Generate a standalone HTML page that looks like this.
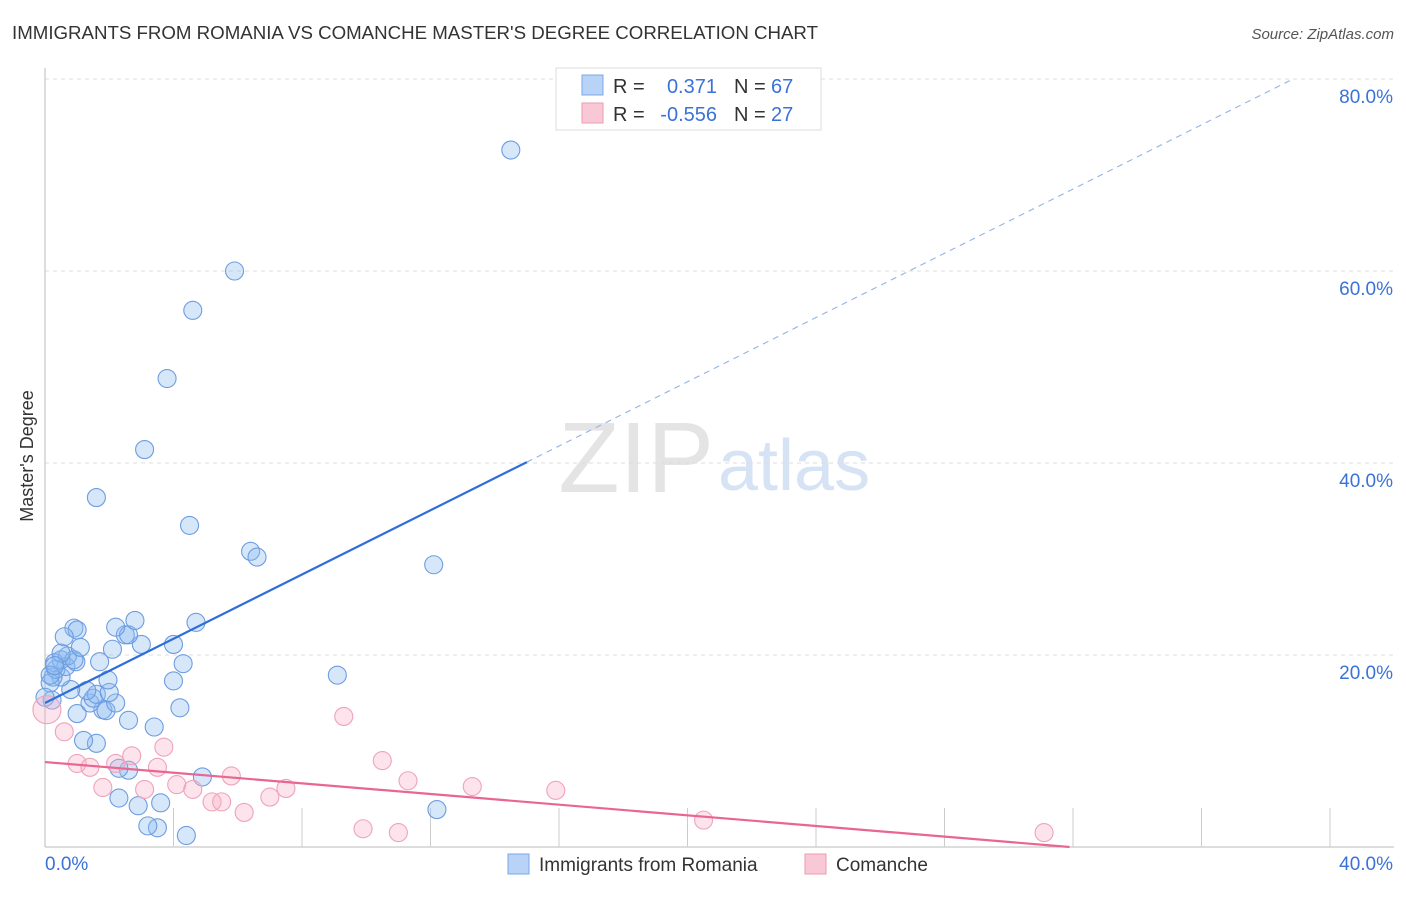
<!DOCTYPE html>
<html><head><meta charset="utf-8"><style>
body{margin:0;background:#fff;font-family:"Liberation Sans",sans-serif;}
svg text{font-family:"Liberation Sans",sans-serif;}
</style></head><body>
<svg width="1406" height="892" viewBox="0 0 1406 892">
<text x="12" y="39" font-size="18.7" fill="#333" textLength="806">IMMIGRANTS FROM ROMANIA VS COMANCHE MASTER'S DEGREE CORRELATION CHART</text>
<text x="1394" y="39" font-size="15" fill="#555" font-style="italic" text-anchor="end">Source: ZipAtlas.com</text>
<text x="714" y="492" font-size="100" fill="#e4e4e4" text-anchor="end" font-family="Liberation Serif">ZIP</text>
<text x="718" y="490" font-size="72" fill="#d6e3f5">atlas</text>
<text transform="translate(33,456) rotate(-90)" font-size="18" fill="#333" text-anchor="middle">Master's Degree</text>
<g id="grid"></g><g id="axes"></g><g id="pts"></g><g id="lines"></g>
<g>
<rect x="556" y="68" width="265" height="62" fill="#fff" stroke="#ddd"/>
<rect x="582" y="75" width="21" height="20" fill="#b8d3f5" stroke="#7aa7e6"/>
<rect x="582" y="103" width="21" height="20" fill="#f9c8d6" stroke="#ee9ab2"/>
<text x="613" y="93" font-size="20" fill="#333">R = </text><text x="717" y="93" font-size="20" fill="#3a72d8" text-anchor="end">0.371</text>
<text x="734" y="93" font-size="20" fill="#333">N = </text><text x="771" y="93" font-size="20" fill="#3a72d8">67</text>
<text x="613" y="121" font-size="20" fill="#333">R = </text><text x="717" y="121" font-size="20" fill="#3a72d8" text-anchor="end">-0.556</text>
<text x="734" y="121" font-size="20" fill="#333">N = </text><text x="771" y="121" font-size="20" fill="#3a72d8">27</text>
</g>
<g>
<rect x="508" y="854" width="21" height="20" fill="#b8d3f5" stroke="#7aa7e6"/>
<text x="539" y="871" font-size="19" fill="#333">Immigrants from Romania</text>
<rect x="805" y="854" width="21" height="20" fill="#f9c8d6" stroke="#ee9ab2"/>
<text x="836" y="871" font-size="19" fill="#333">Comanche</text>
</g>
</svg>
<script>
const blueX=[14.5,5.9,4.6,3.8,3.1,1.6,4.5,6.4,6.6,12.1,9.1,12.2,4.4,3.5,3.2,3.6,2.9,2.3,2.6,2.3,4.9,1.6,1.2,3.4,2.6,4.2,1.0,1.8,1.9,2.2,1.4,1.5,1.6,2.0,1.3,1.96,4.0,0.8,0.5,0.25,0.16,0.34,0.65,0.96,0.5,0.3,1.7,4.3,0.7,0.9,0.5,4.0,2.1,3.0,2.5,2.6,2.2,2.8,4.7,0.9,1.0,0.6,1.1,0.16,0.22,0.0,0.3];
const blueY=[72.6,60.0,55.9,48.8,41.4,36.4,33.5,30.8,30.2,29.4,17.9,3.9,1.2,2.0,2.2,4.6,4.3,5.1,8.0,8.2,7.3,10.8,11.1,12.5,13.2,14.5,13.9,14.3,14.2,15.0,15.0,15.5,15.9,16.1,16.3,17.4,17.3,16.4,17.7,17.7,17.1,18.5,18.8,19.3,19.5,19.2,19.3,19.1,19.9,19.5,20.2,21.1,20.6,21.1,22.1,22.1,22.9,23.6,23.4,22.8,22.6,21.9,20.8,17.9,15.3,15.6,18.9];
const pinkX=[0.06,0.6,1.0,1.4,1.8,2.2,2.7,3.5,3.7,3.1,4.1,4.6,5.2,5.5,5.8,6.2,7.0,7.5,9.3,10.5,11.3,9.9,11.0,13.3,15.9,20.5,31.1];
const pinkY=[14.3,12.0,8.7,8.3,6.2,8.7,9.5,8.3,10.4,6.0,6.5,6.0,4.7,4.7,7.4,3.6,5.2,6.1,13.6,9.0,6.9,1.9,1.5,6.3,5.9,2.8,1.5];
const ticksY=[20,40,60,80];
const blueLine=[15.0,1.673]; const pinkLine=[8.85,-0.2775];
const NS="http://www.w3.org/2000/svg";
const X=v=>45+v*32.125, Y=v=>847-v*9.6;
function mk(t,a,p){const e=document.createElementNS(NS,t);for(const k in a)e.setAttribute(k,a[k]);document.getElementById(p).appendChild(e);return e;}
ticksY.forEach(t=>{
 const g=mk('line',{x1:45,x2:1394,y1:Y(t),y2:Y(t),stroke:'#ddd','stroke-dasharray':'4,4'},'grid');
 
 
 const l=mk('text',{x:1393,y:Y(t)+24,'font-size':19,fill:'#3a72d8','text-anchor':'end'},'grid');
 l.textContent=t.toFixed(1)+'%';
 
 
});
mk('line',{x1:45,x2:45,y1:68,y2:847,stroke:'#bbb'},'axes');
mk('line',{x1:45,x2:1394,y1:847,y2:847,stroke:'#bbb'},'axes');
for(let i=1;i<=10;i++){mk('line',{x1:X(i*4),x2:X(i*4),y1:808,y2:847,stroke:'#ccc'},'axes');}
[['0.0%',45,'start'],['40.0%',1393,'end']].forEach(([s,x,a])=>{const t=mk('text',{x:x,y:870,'font-size':19,fill:'#3a72d8','text-anchor':a},'axes');t.textContent=s;
 
 });
blueX.forEach((v,i)=>{const c=mk('circle',{cx:X(v),cy:Y(blueY[i]),r:9,fill:'rgba(140,185,240,0.35)',stroke:'#6d9de0','stroke-width':1.1},'pts');
 
 });
pinkX.forEach((v,i)=>{const c=mk('circle',{cx:X(v),cy:Y(pinkY[i]),r:i==0?14:9,fill:'rgba(248,175,198,0.35)',stroke:'#efa3ba','stroke-width':1.1},'pts');
 
 });
const bl=mk('line',{x1:X(0),y1:Y(blueLine[0]),x2:X(15),y2:Y(blueLine[0]+15*blueLine[1]),stroke:'#2f6fd8','stroke-width':2.2},'lines');


const bd=mk('line',{x1:X(15),y1:Y(blueLine[0]+15*blueLine[1]),x2:X(38.8),y2:Y(blueLine[0]+38.8*blueLine[1]),stroke:'#9bb8e6','stroke-width':1.2,'stroke-dasharray':'6,5'},'lines');


const xe=-pinkLine[0]/pinkLine[1];
const pl=mk('line',{x1:X(0),y1:Y(pinkLine[0]),x2:X(xe),y2:Y(0),stroke:'#e8668f','stroke-width':2.2},'lines');


</script>
</body></html>
